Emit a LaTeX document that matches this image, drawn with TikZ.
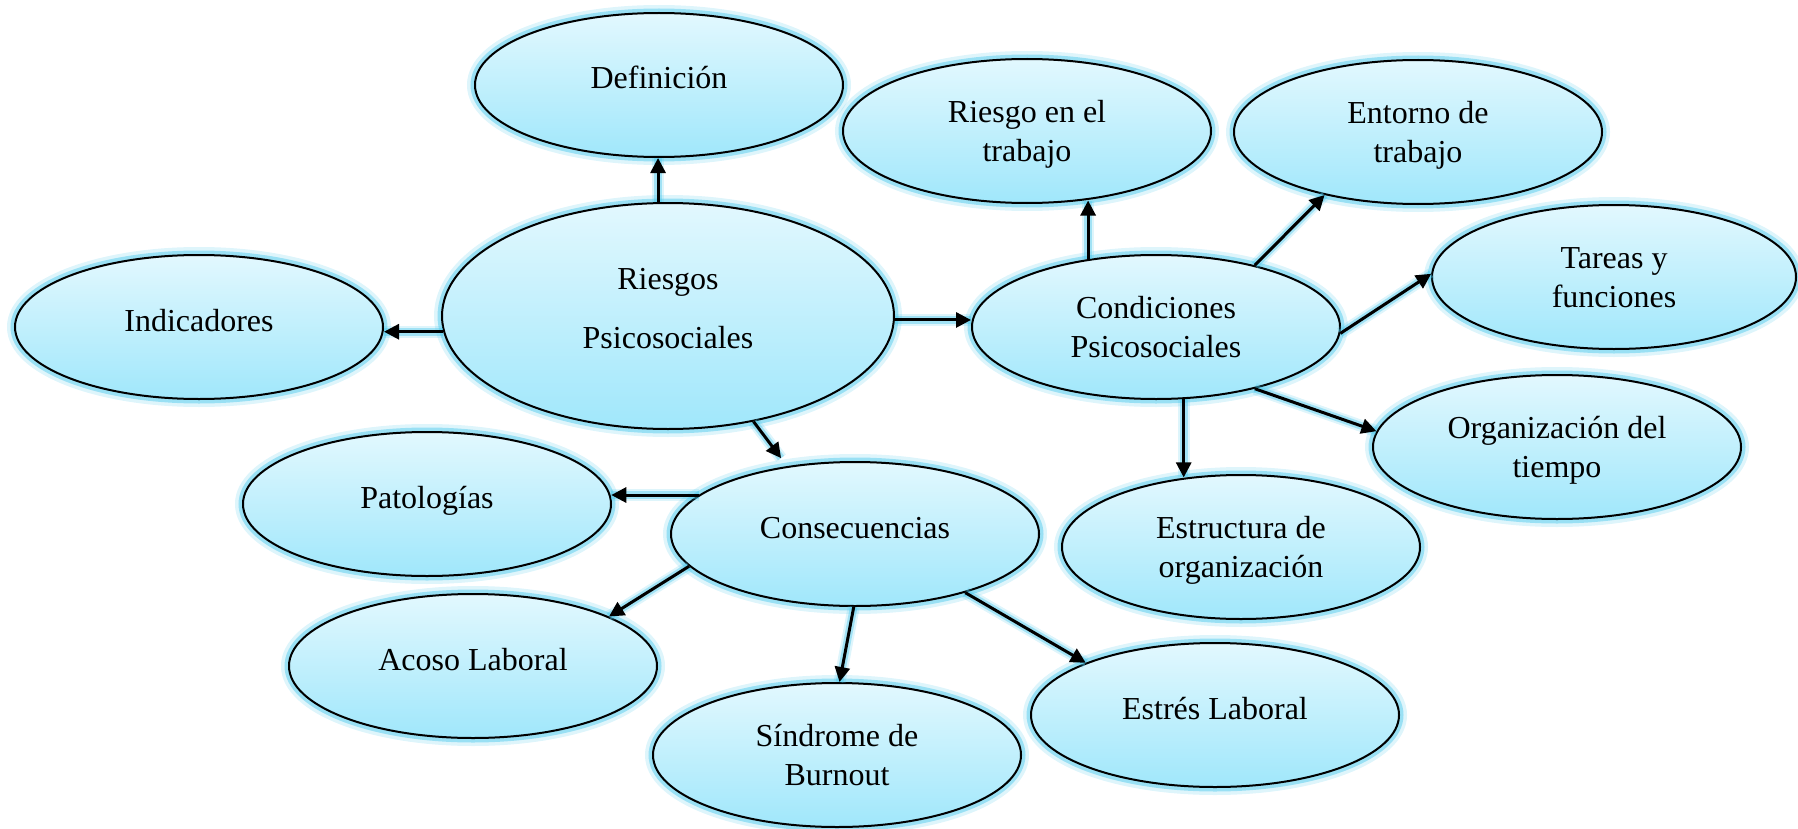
\documentclass[tikz,border=0pt]{standalone}
\usepackage{fontspec}
\setmainfont{Liberation Serif}
\usetikzlibrary{shapes.geometric,arrows.meta}
\definecolor{bubtop}{RGB}{226,248,254}
\definecolor{bubbot}{RGB}{160,231,251}
\definecolor{glow}{RGB}{70,198,235}
\tikzset{
  bub/.style={ellipse, draw=black, line width=1pt, top color=bubtop, bottom color=bubbot,
    inner sep=0pt, minimum width=184pt, minimum height=72pt, align=center,
    font=\fontsize{16}{19.5}\selectfont, text height=31pt, text depth=0.6pt,
    preaction={draw=glow, line width=8pt, draw opacity=0.18},
    preaction={draw=glow, line width=4.5pt, draw opacity=0.45}},
  one/.style={text height=11pt, text depth=7pt},
  arr/.style={line width=1.5pt, -{Triangle[length=7.5pt,width=7.5pt]},
    preaction={draw=glow, -, line width=6pt, draw opacity=0.18},
    preaction={draw=glow, -, line width=3.8pt, draw opacity=0.4}},
}
\begin{document}
\begin{tikzpicture}[x=0.5pt,y=-0.5pt]
\useasboundingbox (0,0) rectangle (1798,829);
% nodes
\node[bub, minimum width=226pt, minimum height=113pt, text height=33pt, text depth=1pt] (rp) at (668,316) {Riesgos\\[10pt]Psicosociales};
\node[bub, one] (def) at (659,85) {Definición};
\node[bub, one] (ind) at (199,327) {Indicadores};
\node[bub] (cond) at (1156,327) {Condiciones\\Psicosociales};
\node[bub] (rt) at (1027,131) {Riesgo en el\\trabajo};
\node[bub] (ent) at (1418,132) {Entorno de\\trabajo};
\node[bub, minimum width=182pt] (tar) at (1614,277) {Tareas y\\funciones};
\node[bub] (org) at (1557,447) {Organización del\\tiempo};
\node[bub, minimum width=179pt] (est) at (1241,547) {Estructura de\\organización};
\node[bub, one] (cons) at (855,534) {Consecuencias};
\node[bub, one] (pat) at (427,504) {Patologías};
\node[bub, one] (aco) at (473,666) {Acoso Laboral};
\node[bub] (sin) at (837,755) {Síndrome de\\Burnout};
\node[bub, one] (str) at (1215,715) {Estrés Laboral};
% connectors
\draw[arr] (rp.95) -- (rp.95 |- def.south);
\draw[arr] (rp.184.3) -- (rp.184.3 -| ind.east);
\draw[arr] (rp.359) -- (rp.359 -| cond.west);
\draw[arr, shorten >=5pt] (rp.309.5) -- (cons.135.8);
\draw[arr] (cond.135) -- (cond.135 |- rt.309.7);
\draw[arr] (cond.32.4) -- (ent.214.8);
\draw[arr] (cond.358.5) -- (tar.179.7);
\draw[arr] (cond.328.9) -- (org.175);
\draw[arr] (cond.291.5) -- (cond.291.5 |- est.128);
\draw[arr] (cons.166.9) -- (cons.166.9 -| pat.2.2);
\draw[arr] (cons.191.2) -- (aco.20.5);
\draw[arr] (cons.269) -- (sin.88.8);
\draw[arr] (cons.332.3) -- (str.158.4);
\end{tikzpicture}
\end{document}
